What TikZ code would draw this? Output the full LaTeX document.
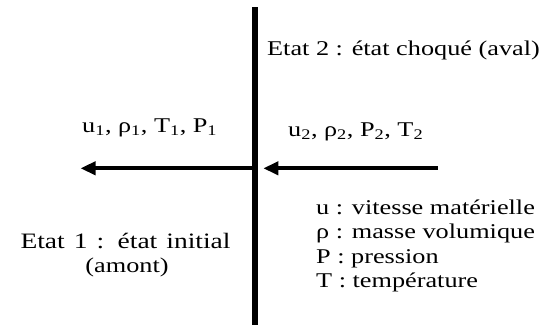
\documentclass[tikz,border=0pt]{standalone}
\usepackage{fontspec}
\setmainfont{Liberation Serif}[FakeStretch=1.25]
\usetikzlibrary{arrows.meta}
\begin{document}
\begin{tikzpicture}[x=1pt,y=-1pt,
  txt/.style={font=\fontsize{21}{23.5}\selectfont, inner sep=0pt, anchor=base west},
  ctxt/.style={font=\fontsize{21}{23.5}\selectfont, inner sep=0pt, anchor=base},
  flow/.style={line width=4pt, -{Triangle[length=15pt,width=13pt]}},
  front/.style={line width=5.5pt}]
\useasboundingbox (0,0) rectangle (543,325);
% shock front
\coordinate (top) at (254.8,7.3);
\coordinate (bot) at (254.8,325);
\draw[front] (top) -- (bot);
% arrows
\coordinate (a1s) at (254,168.3);
\coordinate (a1e) at (80.5,168.3);
\coordinate (a2s) at (437.5,168.3);
\coordinate (a2e) at (263.3,168.3);
\draw[flow] (a1s) -- (a1e);
\draw[flow] (a2s) -- (a2e);
% labels
\node[txt] (etat2) at (267,55) {Etat 2 : état choqué (aval)};
\node[txt] (v1) at (82,132) {u\textsubscript{1}, ρ\textsubscript{1}, T\textsubscript{1}, P\textsubscript{1}};
\node[txt] (v2) at (288,136) {u\textsubscript{2}, ρ\textsubscript{2}, P\textsubscript{2}, T\textsubscript{2}};
\node[ctxt, font=\fontsize{22}{24}\selectfont] (etat1a) at (125.5,248) {\makebox[210pt][s]{Etat 1 : état initial}};
\node[ctxt] (etat1b) at (127,272) {(amont)};
\node[txt] (lu) at (316,214) {u : vitesse matérielle};
\node[txt] (lr) at (316,238.5) {ρ : masse volumique};
\node[txt] (lp) at (316,263) {P : pression};
\node[txt] (lt) at (316,287.5) {T : température};
\end{tikzpicture}
\end{document}
